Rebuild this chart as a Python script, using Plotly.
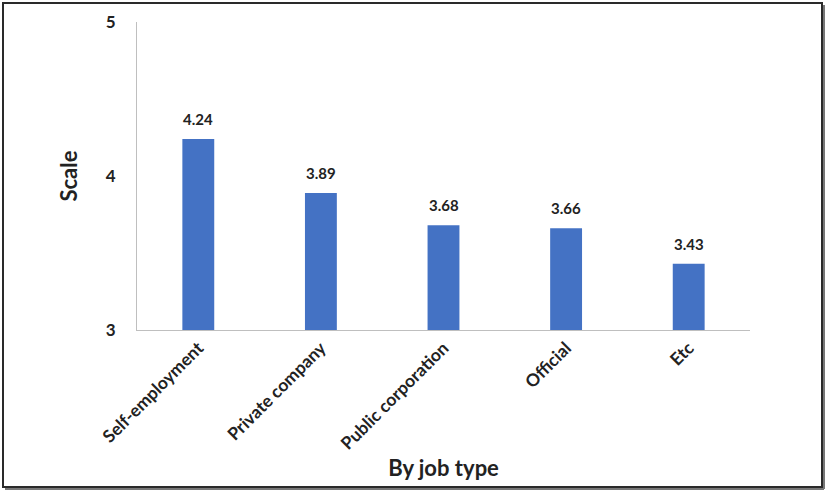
import plotly.graph_objects as go

categories = ["Self-employment", "Private company", "Public corporation", "Official", "Etc"]
values = [4.24, 3.89, 3.68, 3.66, 3.43]
value_labels = ["4.24", "3.89", "3.68", "3.66", "3.43"]
y_ticks = [3, 4, 5]

FONT = "Lato, 'Open Sans', sans-serif"

fig = go.Figure()
fig.add_trace(go.Bar(
    x=categories, y=values, width=0.26,
    marker=dict(color="#4472C4", line=dict(width=0)),
    hoverinfo="x+y",
))

for c, v, t in zip(categories, values, value_labels):
    fig.add_annotation(x=c, y=v, text="<b>%s</b>" % t, showarrow=False,
                       yshift=20, font=dict(family=FONT, size=15, color="#222"))

fig.update_layout(
    width=827, height=492,
    margin=dict(l=137, r=77, t=22, b=162),
    paper_bgcolor="white", plot_bgcolor="white",
    showlegend=False,
    font=dict(family=FONT, color="#222"),
    xaxis=dict(
        showline=True, linecolor="#BFBFBF", linewidth=1,
        showgrid=False, ticks="", tickangle=-45,
        tickfont=dict(family=FONT, size=17.5, color="#222", weight="bold"),
        title=dict(text="<b>By job type</b>", font=dict(family=FONT, size=22, color="#222"), standoff=8),
        automargin=False,
    ),
    yaxis=dict(
        range=[3, 5], tickvals=y_ticks, ticktext=[str(v) for v in y_ticks],
        showline=True, linecolor="#BFBFBF", linewidth=1,
        showgrid=False, ticks="", zeroline=False,
        ticklabelstandoff=17,
        tickfont=dict(family=FONT, size=17, color="#222", weight="bold"),
        title=dict(text="<b>Scale</b>", font=dict(family=FONT, size=22, color="#222"), standoff=22),
        automargin=False,
    ),
    shapes=[
        dict(type="rect", xref="paper", yref="paper",
             x0=(3 - 137) / 613, x1=(822 - 137) / 613,
             y0=(330 - 487) / 308, y1=(330 - 3) / 308,
             line=dict(color="#2a2a2a", width=2), layer="above"),
        dict(type="line", xref="paper", yref="paper",
             x0=(824 - 137) / 613, x1=(824 - 137) / 613,
             y0=(330 - 489) / 308, y1=(330 - 5) / 308,
             line=dict(color="#777", width=2)),
        dict(type="line", xref="paper", yref="paper",
             x0=(5 - 137) / 613, x1=(824 - 137) / 613,
             y0=(330 - 489) / 308, y1=(330 - 489) / 308,
             line=dict(color="#777", width=2)),
    ],
)

fig.write_html("out.html")
